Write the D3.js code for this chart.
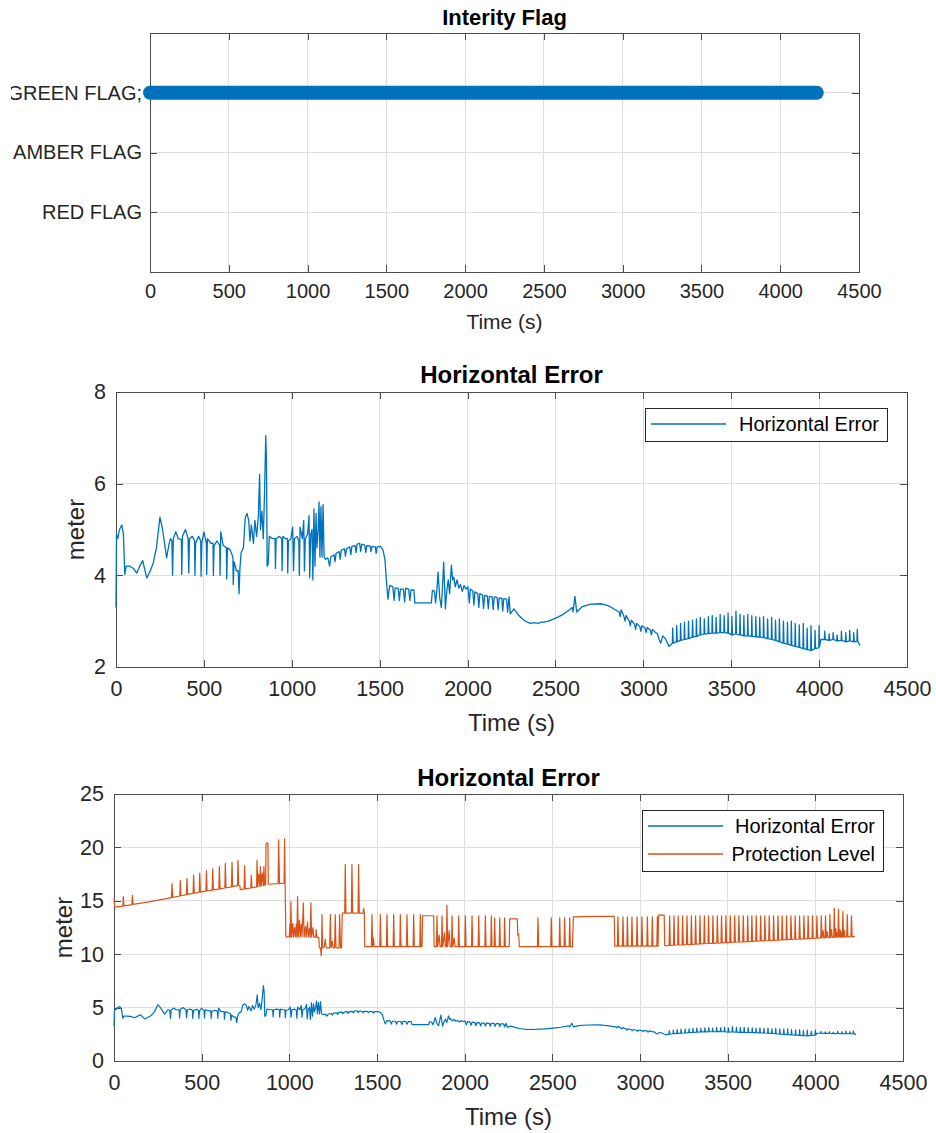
<!DOCTYPE html>
<html lang="en">
<head>
<meta charset="UTF-8">
<title>Integrity Flag and Horizontal Error</title>
<style>
  body { margin: 0; background: #fff; }
  svg { display: block; font-family: "Liberation Sans", Arial, Helvetica, sans-serif; }
  .grid line { stroke: #dedede; stroke-width: 1; shape-rendering: crispEdges; }
  .box { fill: none; stroke: #4d4d4d; stroke-width: 1; shape-rendering: crispEdges; }
  .tick line { stroke: #4d4d4d; shape-rendering: crispEdges; }
  .tick text { fill: #262626; }
  .title { font-weight: bold; fill: #000; }
  .label { fill: #262626; }
</style>
</head>
<body>
<svg width="936" height="1133"></svg>
<script src="https://d3js.org/d3.v7.min.js"></script>
<script>
// ---- data ----
const timeTicks = [0, 500, 1000, 1500, 2000, 2500, 3000, 3500, 4000, 4500];
const flagLevels = ['RED FLAG', 'AMBER FLAG', 'GREEN FLAG;'];
const flagTime = [0, 4232];
const flagState = ['GREEN FLAG;', 'GREEN FLAG;'];
const errTicks = [2, 4, 6, 8];
const errPlTicks = [0, 5, 10, 15, 20, 25];

// horizontal error [time s, meter]
const horizErr = [
  [0,3.3],[3,4.9],[10,4.8],[20,5.0],[33,5.1],[42,4.9],[50,4.02],[58,4.2],[80,4.2],[99,4.15],[118,4.05],[135,4.2],[152,4.32],[165,4.1],[176,3.94],[195,4.1],[212,4.27],[230,4.6],[250,5.27],[265,5.0],[280,4.6],[288,4.38],[300,4.65],[309,4.8],[318,4.75],[322,4.0],[326,4.8],
  [340,4.95],[355,4.8],[372,4.78],[374,4.02],[378,4.85],[395,5.0],[410,4.8],[414,4.05],[418,4.8],[435,4.85],[447,4.75],[449,4.0],[453,4.7],[470,4.85],[482,4.75],[484,3.98],[488,4.7],[500,4.95],[514,4.7],[516,4.02],[520,4.8],[540,4.7],[552,4.7],[554,4.0],[558,4.65],[575,4.75],[590,4.65],[592,4.0],[596,4.95],[610,4.65],[628,4.6],[630,3.92],[634,4.6],[650,4.55],[665,4.4],[667,3.8],[672,4.3],[685,4.1],[695,4.1],[700,3.6],[705,4.15],[712,4.5],
  [725,4.6],[735,5.25],[745,5.35],[755,5.2],[762,4.75],[770,5.1],[782,4.7],[790,5.2],[800,4.85],[810,5.3],[817,6.2],[822,5.0],[830,5.4],[838,4.8],[845,5.8],[852,7.05],[856,6.5],[860,4.2],[866,4.25],
  [872,4.85],[890,4.8],[905,4.8],[907,4.15],[911,4.8],[930,4.85],[943,4.8],[945,4.1],[949,4.85],[965,4.8],[975,4.8],[977,4.05],[981,4.75],[995,4.8],[1005,5.05],[1010,4.1],[1015,4.8],[1030,4.85],[1040,4.75],[1043,4.0],[1047,5.05],[1060,4.8],[1068,5.2],[1072,4.1],[1077,4.8],[1090,4.9],[1098,5.3],[1102,3.95],[1108,4.9],[1115,5.0],[1120,3.9],[1126,5.45],[1132,4.2],[1138,5.35],[1143,4.6],[1150,5.0],[1155,5.6],[1160,4.4],[1166,5.5],[1172,4.4],[1178,5.55],[1184,4.4],[1192,4.35],
  [1205,4.38],[1215,4.2],[1222,4.4],[1240,4.45],[1246,4.3],[1252,4.48],[1270,4.52],[1275,4.35],[1282,4.55],[1300,4.58],[1305,4.42],[1312,4.58],[1330,4.62],[1336,4.45],[1342,4.63],[1360,4.65],[1366,4.5],[1372,4.68],[1386,4.7],[1392,4.52],[1398,4.68],[1415,4.66],[1421,4.5],[1427,4.65],[1445,4.64],[1450,4.52],[1456,4.63],[1475,4.62],[1480,4.48],[1486,4.62],[1505,4.63],[1519,4.55],[1530,4.35],[1538,3.9],[1547,3.48],[1557,3.78],
  [1575,3.75],[1582,3.45],[1588,3.72],[1605,3.72],[1612,3.45],[1618,3.7],[1635,3.7],[1642,3.42],[1648,3.72],[1665,3.7],[1672,3.45],[1678,3.68],[1695,3.68],[1700,3.4],[1718,3.4],[1760,3.4],[1794,3.4],[1800,3.67],[1812,3.65],[1818,3.4],[1825,3.65],
  [1832,4.07],[1842,3.5],[1851,3.3],[1858,3.8],[1864,4.29],[1870,3.7],[1874,3.27],[1882,3.67],[1890,3.9],[1898,3.6],[1908,4.22],[1915,3.9],[1922,3.96],[1930,3.75],[1940,3.9],[1950,3.72],[1960,3.8],[1970,3.65],[1980,3.78],[1990,3.7],[2002,3.75],
  [2010,3.4],[2016,3.7],[2030,3.66],[2036,3.35],[2042,3.64],[2058,3.6],[2064,3.3],[2070,3.6],[2085,3.57],[2091,3.28],[2097,3.56],[2112,3.55],[2118,3.27],[2124,3.54],[2140,3.53],[2146,3.25],[2152,3.53],[2168,3.52],[2174,3.25],[2180,3.5],[2195,3.5],[2200,3.22],[2206,3.49],[2222,3.48],[2228,3.2],[2236,3.53],[2243,3.16],
  [2264,3.27],[2290,3.13],[2321,3.02],[2340,2.98],[2359,2.95],[2380,2.97],[2400,2.95],[2420,2.98],[2435,2.98],[2460,3.0],[2492,3.05],[2520,3.1],[2548,3.16],[2577,3.24],[2595,3.3],[2600,3.2],[2611,3.54],[2621,3.2],[2650,3.31],[2700,3.37],[2757,3.38],[2790,3.35],[2814,3.31],[2840,3.25],[2862,3.2],[2868,3.1],[2874,3.25],[2890,3.1],[2896,3.0],[2902,3.12],[2920,3.0],[2926,2.9],[2932,3.02],[2950,2.93],[2956,2.82],[2962,2.95],[2980,2.88],[2986,2.78],[2992,2.9],[3010,2.85],[3016,2.75],[3022,2.86],[3040,2.8],[3046,2.7],[3052,2.82],[3070,2.75],[3080,2.73],[3090,2.6],[3099,2.52],[3110,2.68],[3125,2.62],[3146,2.45],
  [3165,2.52],[3167,2.85],[3170,2.52],[3188,2.55],[3190,2.9],[3193,2.55],[3210,2.58],[3212,2.95],[3215,2.58],[3232,2.6],[3234,2.98],[3237,2.6],[3255,2.62],[3257,3.0],[3260,2.62],[3278,2.65],[3280,3.02],[3283,2.65],
  [3300,2.67],[3302,3.05],[3305,2.67],[3322,2.7],[3324,3.08],[3327,2.7],[3345,2.72],[3347,3.05],[3350,2.72],[3368,2.73],[3370,3.1],[3373,2.73],[3390,2.74],[3392,3.12],[3395,2.74],[3412,2.74],[3414,3.08],[3417,2.74],
  [3435,2.75],[3437,3.15],[3440,2.75],[3458,2.75],[3460,3.12],[3463,2.75],[3480,2.74],[3482,3.18],[3485,2.74],[3502,2.7],[3504,3.1],[3507,2.7],[3525,2.72],[3527,3.22],[3530,2.72],[3548,2.7],[3550,3.15],[3553,2.7],
  [3570,2.68],[3572,3.12],[3575,2.68],[3592,2.68],[3594,3.15],[3597,2.68],[3615,2.67],[3617,3.12],[3620,2.67],[3638,2.66],[3640,3.1],[3643,2.66],[3660,2.65],[3662,3.08],[3665,2.65],[3682,2.64],[3684,3.1],[3687,2.64],
  [3705,2.62],[3707,3.05],[3710,2.62],[3728,2.6],[3730,3.08],[3733,2.6],[3750,2.58],[3752,3.02],[3755,2.58],[3772,2.55],[3774,3.05],[3777,2.55],[3795,2.52],[3797,3.0],[3800,2.52],[3818,2.5],[3820,2.98],[3823,2.5],
  [3840,2.47],[3842,3.0],[3845,2.47],[3862,2.45],[3864,2.95],[3867,2.45],[3885,2.43],[3887,2.92],[3890,2.43],[3908,2.4],[3910,2.95],[3913,2.4],[3930,2.38],[3932,2.85],[3935,2.38],[3952,2.36],[3954,2.9],[3957,2.36],
  [3975,2.4],[3977,2.8],[3980,2.4],[3998,2.42],[4000,2.9],[4003,2.45],[4010,2.6],[4030,2.6],[4032,2.78],[4035,2.6],[4055,2.58],[4057,2.72],[4060,2.58],[4078,2.6],[4080,2.75],[4083,2.6],[4100,2.57],[4102,2.7],[4105,2.57],
  [4125,2.58],[4127,2.78],[4130,2.58],[4150,2.55],[4152,2.75],[4155,2.55],[4172,2.57],[4174,2.8],[4177,2.57],[4195,2.55],[4197,2.75],[4200,2.55],[4215,2.56],[4217,2.82],[4220,2.56],[4232,2.47]
];

// protection level [time s, meter]
const protLevel = [
  [0,15.2],[4,14.4],[50,14.5],[53,15.4],[57,14.52],[102,14.65],[105,15.5],[109,14.67],[200,14.9],[328,15.3],[331,16.6],[335,15.32],[375,15.45],[378,16.9],[382,15.47],[413,15.57],[416,17.1],[420,15.6],
  [451,15.7],[454,17.4],[458,15.72],[486,15.8],[489,17.6],[493,15.82],[524,15.9],[527,17.8],[531,15.92],[560,16.0],[563,18.0],[567,16.02],[598,16.1],[601,18.2],[605,16.12],[632,16.2],[635,18.5],[639,16.22],
  [670,16.3],[673,18.6],[677,16.32],[704,16.42],[707,18.8],[711,16.44],[718,16.42],[720,16.05],[742,16.1],[745,18.3],[749,16.12],[780,16.2],[783,17.4],[787,16.22],[813,16.3],[816,18.8],[820,16.3],[826,17.5],[832,16.35],
  [835,18.2],[840,16.4],[846,17.6],[852,16.4],[855,18.2],[860,16.45],[865,16.5],[867,20.3],[872,20.4],[878,20.4],[880,16.55],[936,16.6],[939,20.7],[944,16.6],[970,16.65],[973,20.8],[976,16.65],[980,11.7],
  [985,11.6],[1000,11.65],[1003,12.8],[1006,11.6],[1009,14.9],[1013,11.6],[1020,12.9],[1024,11.6],[1030,12.5],[1034,11.65],[1040,12.8],[1043,11.6],[1047,15.4],[1051,11.6],[1058,13.2],[1062,11.6],[1068,12.8],[1072,11.65],
  [1080,14.8],[1084,11.6],[1092,12.6],[1096,11.6],[1104,13.0],[1108,11.6],[1115,12.4],[1119,11.6],[1123,14.8],[1127,11.6],[1135,12.5],[1139,11.6],[1150,11.6],[1153,12.3],[1157,11.6],[1168,11.55],[1171,10.6],[1178,10.6],
  [1182,9.85],[1184,10.6],[1186,13.7],[1190,10.6],[1200,10.7],[1205,11.4],[1210,10.6],[1230,10.6],[1234,13.7],[1238,10.6],[1245,11.2],[1250,10.6],[1258,10.6],[1262,13.7],[1266,10.6],[1283,10.6],[1287,13.7],[1292,10.6],
  [1298,10.6],[1302,13.85],[1316,13.85],[1319,18.4],[1323,13.85],[1354,13.85],[1357,18.4],[1361,13.85],[1392,13.85],[1395,18.4],[1399,13.85],[1420,13.85],[1424,14.3],[1428,13.85],[1430,10.7],
  [1468,10.7],[1471,13.7],[1475,10.7],[1480,11.5],[1484,10.7],[1516,10.7],[1519,13.7],[1523,10.7],[1554,10.7],[1557,13.7],[1561,10.7],[1592,10.7],[1595,13.7],[1599,10.7],[1630,10.7],[1633,13.7],[1637,10.7],
  [1668,10.7],[1671,13.7],[1675,10.7],[1706,10.7],[1709,13.7],[1713,10.7],[1744,10.7],[1747,13.7],[1751,10.7],[1757,10.7],[1760,13.6],[1823,13.6],[1826,10.7],
  [1839,10.7],[1842,13.6],[1846,10.7],[1855,11.8],[1860,10.7],[1868,10.7],[1871,13.6],[1875,10.7],[1885,12.0],[1890,10.7],[1896,10.7],[1899,14.6],[1903,10.7],[1912,12.2],[1917,10.7],[1925,10.7],[1928,13.6],[1932,10.7],
  [1940,11.5],[1945,10.7],[1963,10.7],[1966,13.6],[1970,10.7],[2001,10.7],[2004,13.6],[2008,10.7],[2039,10.7],[2042,13.6],[2046,10.7],[2077,10.7],[2080,13.6],[2084,10.7],[2115,10.7],[2118,13.6],[2122,10.7],
  [2149,10.7],[2152,13.6],[2156,10.7],[2168,10.7],[2171,13.4],[2175,10.7],[2197,10.7],[2200,13.4],[2204,10.7],[2225,10.7],[2228,13.4],[2232,10.7],[2254,10.7],[2257,13.3],[2300,13.3],[2303,11.8],[2308,11.9],[2312,10.7],
  [2415,10.7],[2418,13.4],[2422,10.7],[2491,10.7],[2494,13.4],[2498,10.7],[2539,10.7],[2542,13.4],[2546,10.7],[2567,10.7],[2570,13.4],[2574,10.7],[2596,10.7],[2599,13.4],[2603,10.7],[2615,10.7],[2620,13.5],[2750,13.55],
  [2853,13.55],[2856,10.75],[2871,10.75],[2874,13.5],[2878,10.75],[2900,10.75],[2903,13.5],[2907,10.75],[2925,10.75],[2928,13.5],[2932,10.75],[2951,10.75],[2954,13.5],[2958,10.75],[2980,10.75],[2983,13.5],[2987,10.75],
  [3008,10.75],[3011,13.5],[3015,10.75],[3039,10.75],[3042,13.5],[3046,10.75],[3067,10.75],[3070,13.5],[3074,10.75],[3096,10.75],[3099,13.5],[3103,10.75],[3106,13.65],[3138,13.65],[3141,10.8],
  [3166,10.82],[3169,13.6],[3173,10.82],[3191,10.84],[3194,13.6],[3198,10.84],[3215,10.86],[3218,13.6],[3222,10.86],[3240,10.88],[3243,13.6],[3247,10.88],[3265,10.9],[3268,13.6],[3272,10.9],
  [3290,10.92],[3293,13.6],[3297,10.92],[3314,10.94],[3317,13.6],[3321,10.94],[3339,10.96],[3342,13.6],[3346,10.96],[3364,10.98],[3367,13.6],[3371,10.98],[3388,11.0],[3391,13.6],[3395,11.0],
  [3413,11.02],[3416,13.6],[3420,11.02],[3438,11.04],[3441,13.6],[3445,11.04],[3462,11.06],[3465,13.6],[3469,11.06],[3487,11.08],[3490,13.6],[3494,11.08],[3512,11.1],[3515,13.6],[3519,11.1],
  [3537,11.12],[3540,13.6],[3544,11.12],[3561,11.14],[3564,13.6],[3568,11.14],[3586,11.16],[3589,13.6],[3593,11.16],[3611,11.18],[3614,13.6],[3618,11.18],[3635,11.2],[3638,13.6],[3642,11.2],
  [3660,11.22],[3663,13.6],[3667,11.22],[3685,11.24],[3688,13.6],[3692,11.24],[3709,11.26],[3712,13.6],[3716,11.26],[3734,11.28],[3737,13.6],[3741,11.28],[3759,11.3],[3762,13.6],[3766,11.3],
  [3784,11.32],[3787,13.6],[3791,11.32],[3808,11.34],[3811,13.6],[3815,11.34],[3833,11.36],[3836,13.6],[3840,11.36],[3858,11.38],[3861,13.6],[3865,11.38],[3882,11.4],[3885,13.6],[3889,11.4],
  [3907,11.42],[3910,13.6],[3914,11.42],[3932,11.44],[3935,13.6],[3939,11.44],[3956,11.46],[3959,13.6],[3963,11.46],[3981,11.48],[3984,13.6],[3988,11.48],[4006,11.5],[4009,13.6],[4013,11.5],
  [4031,11.52],[4034,13.6],[4038,11.52],[4045,12.2],[4048,11.52],[4055,11.54],[4058,13.6],[4062,11.54],[4068,12.1],[4071,11.55],[4080,11.56],[4083,13.7],[4087,11.56],[4093,12.3],[4096,11.57],
  [4105,11.58],[4108,14.3],[4112,11.58],[4117,12.4],[4120,11.6],[4124,12.0],[4127,11.6],[4129,11.6],[4132,14.2],[4136,11.6],[4141,12.3],[4144,11.6],[4148,12.1],[4151,11.6],
  [4154,11.6],[4157,14.0],[4161,11.6],[4166,12.2],[4169,11.62],[4179,11.62],[4182,13.7],[4186,11.62],[4203,11.64],[4206,13.6],[4210,11.64],[4225,11.65]
];

const BLUE = '#0072BD', ORANGE = '#D95319';
const svg = d3.select('svg');
const defs = svg.append('defs');
const plain = d => String(d);

function panel(o) {
  const g = svg.append('g');
  const x = d3.scaleLinear().domain([0, 4500]).range([o.left, o.right]);
  const y = o.y;

  // grid
  const grid = g.append('g').attr('class', 'grid');
  grid.selectAll('line.v').data(timeTicks.slice(1, -1)).join('line').attr('class', 'v')
    .attr('x1', d => x(d)).attr('x2', d => x(d)).attr('y1', o.top).attr('y2', o.bottom);
  grid.selectAll('line.h').data(o.gridY).join('line').attr('class', 'h')
    .attr('x1', o.left).attr('x2', o.right).attr('y1', d => y(d)).attr('y2', d => y(d));

  // axes, ticks pointing inward
  const ax = sel => sel.attr('font-size', o.tickSize).attr('font-family', null)
    .call(s => s.select('.domain').remove());
  g.append('g').attr('transform', `translate(0,${o.bottom})`)
    .call(d3.axisBottom(x).tickValues(timeTicks).tickFormat(plain).tickSizeInner(-7).tickSizeOuter(0).tickPadding(o.xPad))
    .call(ax);
  g.append('g').attr('transform', `translate(0,${o.top})`)
    .call(d3.axisTop(x).tickValues(timeTicks).tickSizeInner(-7).tickSizeOuter(0).tickFormat(''))
    .call(ax);
  const yl = g.append('g').attr('transform', `translate(${o.left},0)`)
    .call(d3.axisLeft(y).tickValues(o.yTicks).tickFormat(plain).tickSizeInner(-7).tickSizeOuter(0).tickPadding(o.yPad))
    .call(ax);
  if (o.clipId) {
    // the figure's left edge cuts the first letter of the longest label
    defs.append('clipPath').attr('id', o.clipId)
      .append('rect').attr('x', 11 - o.left).attr('y', 0).attr('width', 936).attr('height', 1133);
    yl.attr('clip-path', `url(#${o.clipId})`);
  }
  g.append('g').attr('transform', `translate(${o.right},0)`)
    .call(d3.axisRight(y).tickValues(o.yTicks).tickSizeInner(-7).tickSizeOuter(0).tickFormat(''))
    .call(ax);

  g.append('rect').attr('class', 'box')
    .attr('x', o.left).attr('y', o.top).attr('width', o.right - o.left).attr('height', o.bottom - o.top);

  g.append('text').attr('class', 'title')
    .attr('x', (o.left + o.right) / 2).attr('y', o.top - o.titleGap)
    .attr('text-anchor', 'middle').attr('font-size', o.titleSize).text(o.title);
  g.append('text').attr('class', 'label')
    .attr('x', (o.left + o.right) / 2).attr('y', o.bottom + o.xLabelGap)
    .attr('text-anchor', 'middle').attr('dominant-baseline', 'central')
    .attr('font-size', o.labelSize).text('Time (s)');
  if (o.yLabel) {
    g.append('text').attr('class', 'label')
      .attr('transform', `translate(${o.left - o.yLabelGap},${(o.top + o.bottom) / 2}) rotate(-90)`)
      .attr('text-anchor', 'middle').attr('dominant-baseline', 'central')
      .attr('font-size', o.labelSize).text(o.yLabel);
  }
  return { g, x, y };
}

function legend(g, x0, y0, w, items) {
  const rowH = 28;
  g.append('rect').attr('x', x0).attr('y', y0).attr('width', w).attr('height', items.length * rowH + 5)
    .attr('fill', '#fff').attr('stroke', '#262626').attr('stroke-width', 1).attr('shape-rendering', 'crispEdges');
  items.forEach((it, i) => {
    const cy = y0 + 16 + i * rowH;
    g.append('line').attr('x1', x0 + 6).attr('x2', x0 + 81).attr('y1', cy).attr('y2', cy)
      .attr('stroke', it.color).attr('stroke-width', 1.3);
    g.append('text').attr('x', x0 + w - 8).attr('y', cy).attr('text-anchor', 'end')
      .attr('dominant-baseline', 'central').attr('font-size', 20).attr('fill', '#000').text(it.name);
  });
}

// ---- panel 1: integrity flag ----
const yFlag = d3.scalePoint().domain(flagLevels).range([272, 33]).padding(1);
const p1 = panel({
  left: 150, right: 859, top: 33, bottom: 272, y: yFlag, yTicks: flagLevels, gridY: flagLevels,
  tickSize: 20, labelSize: 21, titleSize: 22, titleGap: 8, xPad: 12, yPad: 8, xLabelGap: 49,
  title: 'Interity Flag', clipId: 'leftcut'
});
const flagPts = flagTime.map((t, i) => [t, flagState[i]]);
p1.g.append('path').datum(flagPts)
  .attr('d', d3.line().x(d => p1.x(d[0])).y(d => yFlag(d[1])))
  .attr('fill', 'none').attr('stroke', BLUE).attr('stroke-width', 14).attr('stroke-linecap', 'round');

// ---- panel 2: horizontal error ----
const y2 = d3.scaleLinear().domain([2, 8]).range([667, 392]);
const p2 = panel({
  left: 116, right: 907, top: 392, bottom: 667, y: y2, yTicks: errTicks, gridY: [4, 6],
  tickSize: 21.5, labelSize: 24, titleSize: 24, titleGap: 9, xPad: 14, yPad: 10, xLabelGap: 55,
  yLabelGap: 41, yLabel: 'meter', title: 'Horizontal Error'
});
p2.g.append('path').datum(horizErr)
  .attr('d', d3.line().x(d => p2.x(d[0])).y(d => y2(d[1])))
  .attr('fill', 'none').attr('stroke', BLUE).attr('stroke-width', 1.3).attr('stroke-linejoin', 'round');
legend(p2.g, 645, 408, 242, [{ name: 'Horizontal Error', color: BLUE }]);

// ---- panel 3: horizontal error vs protection level ----
const y3 = d3.scaleLinear().domain([0, 25]).range([1061, 794]);
const p3 = panel({
  left: 114, right: 903, top: 794, bottom: 1061, y: y3, yTicks: errPlTicks, gridY: [5, 10, 15, 20],
  tickSize: 21.5, labelSize: 24, titleSize: 24, titleGap: 8, xPad: 14, yPad: 10, xLabelGap: 55,
  yLabelGap: 51, yLabel: 'meter', title: 'Horizontal Error'
});
p3.g.append('path').datum(horizErr)
  .attr('d', d3.line().x(d => p3.x(d[0])).y(d => y3(d[1])))
  .attr('fill', 'none').attr('stroke', BLUE).attr('stroke-width', 1.2).attr('stroke-linejoin', 'round');
p3.g.append('path').datum(protLevel)
  .attr('d', d3.line().x(d => p3.x(d[0])).y(d => y3(d[1])))
  .attr('fill', 'none').attr('stroke', ORANGE).attr('stroke-width', 1.2).attr('stroke-linejoin', 'round');
legend(p3.g, 642, 810, 241, [
  { name: 'Horizontal Error', color: BLUE },
  { name: 'Protection Level', color: ORANGE }
]);
</script>
</body>
</html>
